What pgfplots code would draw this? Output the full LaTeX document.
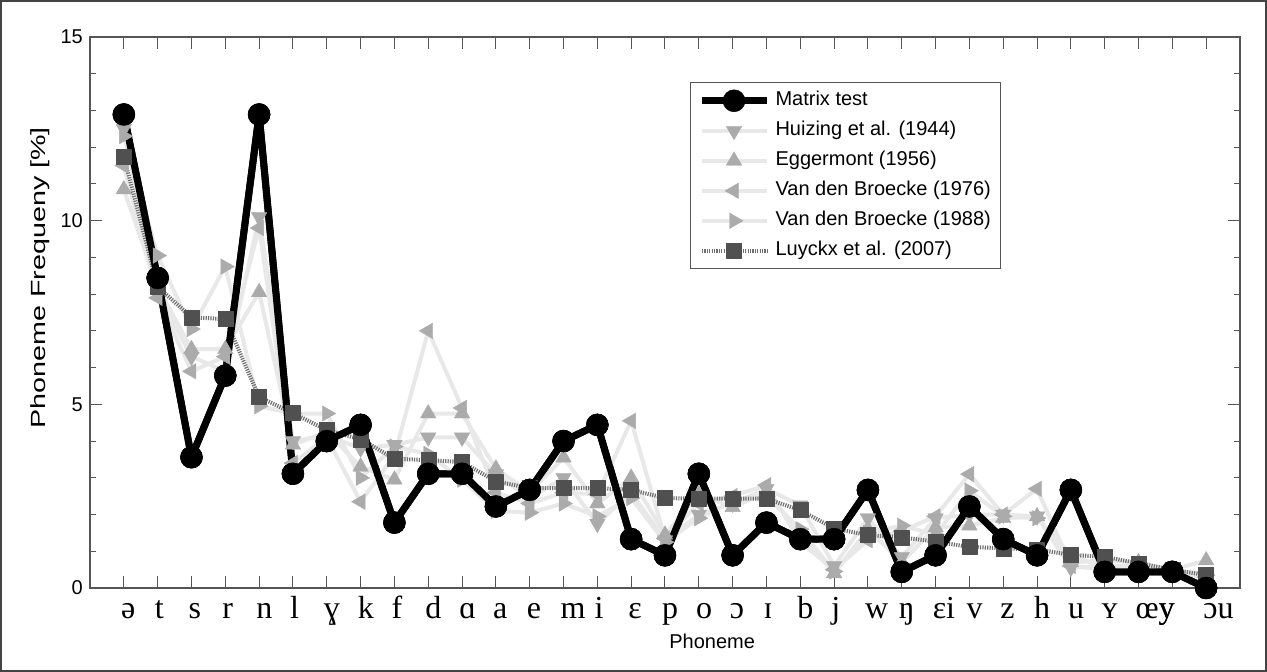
\documentclass[border=0pt]{standalone}
\usepackage{fontspec}
\setmainfont{Liberation Sans}
\newfontfamily\ipa{Liberation Serif}
\usepackage{graphicx}
\usepackage{pgfplots}
\usepackage{pgfplotstable}
\pgfplotsset{compat=1.18}
\definecolor{mk}{HTML}{ABABAB}
\definecolor{ln}{HTML}{E8E8E8}
\definecolor{lk}{HTML}{505050}
\definecolor{lkl}{HTML}{6E6E6E}
\definecolor{ax}{HTML}{555555}

\pgfplotstableread{
x  M     H     E     A     B     L
0  12.89 12.5  10.85 11.5  12.3  11.75
1  8.44  8.0   8.2   7.9   9.05  8.2
2  3.56  6.3   6.5   5.9   7.05  7.37
3  5.78  5.9   6.5   6.3   8.75  7.32
4  12.89 10.1  8.05  9.8   4.95  5.2
5  3.11  4.0   3.9   3.4   4.75  4.76
6  4.0   4.15  4.25  4.1   4.75  4.3
7  4.44  3.8   3.3   2.35  3.0   4.05
8  1.78  3.9   2.95  3.6   3.85  3.52
9  3.11  4.1   4.75  7.0   3.65  3.48
10 3.11  4.1   4.75  4.9   2.95  3.43
11 2.22  3.1   3.25  2.6   2.1   2.9
12 2.67  2.45  2.6   2.3   2.05  2.72
13 4.0   3.0   3.55  2.6   2.3   2.72
14 4.44  1.75  2.3   2.55  1.95  2.72
15 1.33  2.6   3.0   4.55  2.45  2.67
16 0.89  1.3   1.45  1.35  1.25  2.45
17 3.11  2.0   2.55  2.3   1.9   2.43
18 0.89  2.3   2.2   2.5   2.35  2.43
19 1.78  2.7   2.6   2.8   2.5   2.43
20 1.33  2.25  1.5   1.25  1.6   2.12
21 1.33  0.6   0.4   0.5   0.45  1.62
22 2.67  1.9   1.6   1.3   1.5   1.44
23 0.44  0.85  0.7   1.55  1.7   1.38
24 0.89  1.9   1.65  1.95  1.45  1.26
25 2.22  2.0   1.7   3.1   2.65  1.12
26 1.33  2.0   1.9   2.0   1.95  1.08
27 0.89  1.95  1.95  2.7   1.9   1.05
28 2.67  0.55  0.7   0.6   0.9   0.9
29 0.44  0.6   0.75  0.5   0.55  0.85
30 0.44  0.6   0.7   0.55  0.5   0.67
31 0.44  0.45  0.5   0.4   0.4   0.5
32 0.0   0.4   0.75  0.3   0.35  0.35
}\data

\begin{document}
\begin{tikzpicture}[x=1pt,y=1pt]
\useasboundingbox (0,0) rectangle (1267,672);
\draw[line width=1.5pt, color=ax!80!black] (1,1) rectangle (1266,671);
\begin{axis}[
  at={(90pt,84pt)}, anchor=south west,
  scale only axis, width=1150pt, height=551pt,
  xmin=-1, xmax=33, ymin=0, ymax=15, clip=false,
  xtick={0,...,32},
  xticklabels={ə,t,s,r,n,l,ɣ,k,f,d,ɑ,a,e,m,i,ɛ,p,o,ɔ,ɪ,b,j,w,ŋ,ɛi,v,z,h,u,ʏ,œy,{\hspace*{-11pt}y},ɔu},
  ytick={0,5,10,15},
  minor y tick num=4,
  tick pos=both,
  tick align=inside,
  major tick length=12pt, minor tick length=6pt,
  axis line style={ax, line width=1.2pt},
  every tick/.style={ax, line width=1pt},
  xticklabel style={font=\ipa\fontsize{32}{36}\selectfont, anchor=north west, inner sep=0pt, xshift=-3pt, yshift=-8pt, text height=22pt, text depth=8pt},
  yticklabel style={font=\fontsize{20}{24}\selectfont, inner sep=0pt, xshift=-7pt},
  /pgf/number format/assume math mode=true,
  xlabel={Phoneme},
  xlabel style={font=\fontsize{20}{24}\selectfont, at={(axis description cs:0.541,0)}, anchor=center, yshift=-53pt},
  ylabel={\scalebox{1.4}[1]{Phoneme Frequeny [\%]}},
  ylabel style={font=\fontsize{20.5}{24}\selectfont, at={(axis description cs:-0.0435,0.563)}, anchor=center},
  legend style={at={(rel axis cs:0.5217,0.918)}, anchor=north west, draw=ax, line width=1.2pt,
    font=\fontsize{20}{24}\selectfont, inner xsep=8pt, inner ysep=6pt, row sep=6pt,
    nodes={inner sep=2pt, text height=15pt, text depth=5pt},
    /tikz/every odd column/.append style={xshift=0pt}},
  legend cell align=left,
  legend image code/.code={\draw[mark repeat=2,mark phase=2,line join=round,#1] plot coordinates {(0pt,0pt) (32pt,0pt) (65pt,0pt)};},
  every axis plot/.append style={line join=round},
]
\addplot[black, line width=7pt, mark=*, mark size=11pt, mark options={fill=black, line width=0.5pt}] table[x=x,y=M]{\data};
\addlegendentry{\hspace*{3pt}Matrix test}
\addplot[ln, line width=4pt, mark=triangle*, mark size=9pt, mark options={fill=mk, draw=mk, rotate=180, line width=0.4pt, solid}] table[x=x,y=H]{\data};
\addlegendentry{\hspace*{3pt}Huizing et al. (1944)}
\addplot[ln, line width=4pt, mark=triangle*, mark size=9pt, mark options={fill=mk, draw=mk, line width=0.4pt, solid}] table[x=x,y=E]{\data};
\addlegendentry{\hspace*{3pt}Eggermont (1956)}
\addplot[ln, line width=4pt, mark=triangle*, mark size=9pt, mark options={fill=mk, draw=mk, rotate=90, line width=0.4pt, solid}] table[x=x,y=A]{\data};
\addlegendentry{\hspace*{3pt}Van den Broecke (1976)}
\addplot[ln, line width=4pt, mark=triangle*, mark size=9pt, mark options={fill=mk, draw=mk, rotate=-90, line width=0.4pt, solid}] table[x=x,y=B]{\data};
\addlegendentry{\hspace*{3pt}Van den Broecke (1988)}
\addplot[lkl, line width=4pt, dash pattern=on 1.2pt off 1.2pt, mark=square*, mark size=7.5pt, mark options={fill=lk, draw=lk, solid, line width=0.4pt, rounded corners=2pt}] table[x=x,y=L]{\data};
\addlegendentry{\hspace*{3pt}Luyckx et al. (2007)}
\addplot[black, line width=7pt, mark=*, mark size=11pt, mark options={fill=black, line width=0.5pt}, forget plot] table[x=x,y=M]{\data};
\end{axis}
\end{tikzpicture}
\end{document}
